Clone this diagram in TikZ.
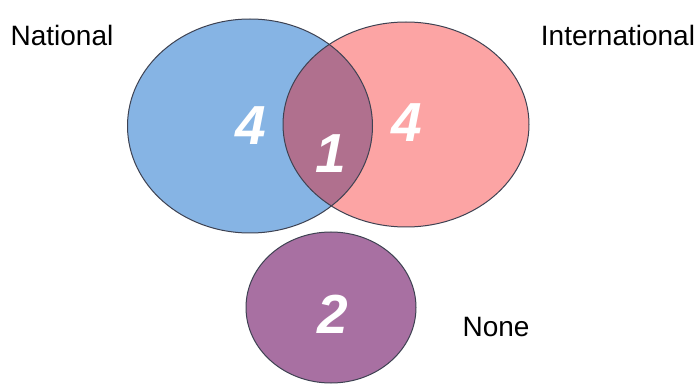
\documentclass[tikz,border=0pt]{standalone}
\usepackage{fontspec}
\setmainfont{Liberation Sans}
\usetikzlibrary{positioning}

\definecolor{natblue}{RGB}{134,180,228}
\definecolor{intpink}{RGB}{252,164,164}
\definecolor{bothmauve}{RGB}{176,112,142}
\definecolor{nonepurple}{RGB}{168,112,162}
\definecolor{rimgray}{RGB}{62,66,82}

\begin{document}
\begin{tikzpicture}[
  x=1pt, y=-1pt,
  set/.style={draw=rimgray, line width=1pt},
  count/.style={text=white, font=\fontsize{55}{55}\selectfont\bfseries\itshape},
  lab/.style={font=\fontsize{28}{28}\selectfont}
]

\useasboundingbox[fill=white] (0,0) rectangle (697,385);

% ---------- sets ----------
\fill[natblue] (250,126) ellipse [x radius=122.5, y radius=107];
\fill[intpink] (406,124.5) ellipse [x radius=123, y radius=102.5];
\begin{scope}
  \clip (250,126) ellipse [x radius=122.5, y radius=107];
  \fill[bothmauve] (406,124.5) ellipse [x radius=123, y radius=102.5];
\end{scope}
\draw[set] (250,126) ellipse [x radius=122.5, y radius=107];
\draw[set] (406,124.5) ellipse [x radius=123, y radius=102.5];
\filldraw[set, fill=nonepurple] (331,307.5) ellipse [x radius=85, y radius=75.5];

% ---------- counts ----------
\node[count] (natonly) at (251,126) {4};
\node[count] (both) at (331,154) {1};
\node[count] (intonly) at (407,123) {4};
\node[count] (none) at (333,314) {2};

% ---------- labels ----------
\node[lab] (natlab) at (62,35) {National};
\node[lab] (intlab) at (618,35) {International};
\node[lab] (nonelab) at (496,327) {None};

\end{tikzpicture}
\end{document}
